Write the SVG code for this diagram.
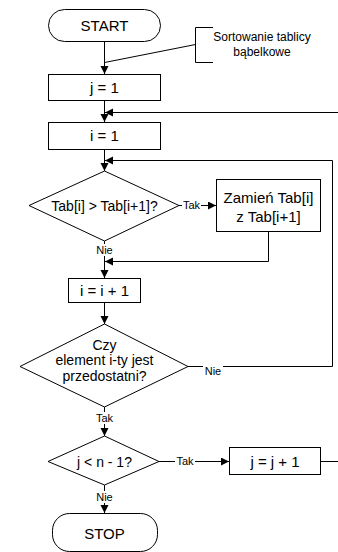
<svg xmlns="http://www.w3.org/2000/svg" width="338" height="552" viewBox="0 0 338 552">
  <defs>
    <marker id="arrow" markerUnits="userSpaceOnUse" markerWidth="10" markerHeight="10" refX="8" refY="4" orient="auto">
      <path d="M0,0 L8,4 L0,8 Z" fill="#000"/>
    </marker>
    <style>
      .shape { fill: #fff; stroke: #000; stroke-width: 1; }
      .edge { fill: none; stroke: #000; stroke-width: 1; }
      .t { font-family: "Liberation Sans", Arial, sans-serif; fill: #000; text-anchor: middle; }
      .box { font-size: 15px; }
      .dec { font-size: 14px; }
      .lbl { font-size: 11px; }
      .note { font-size: 12px; }
      .bg { fill: #fff; stroke: none; }
    </style>
  </defs>

  <rect width="338" height="552" fill="#fff"/>

  <!-- connectors -->
  <g id="connectors">
    <line class="edge" x1="104.5" y1="41" x2="104.5" y2="74" marker-end="url(#arrow)"/>
    <line class="edge" x1="104.5" y1="100" x2="104.5" y2="122" marker-end="url(#arrow)"/>
    <!-- outer loop return -->
    <polyline class="edge" points="338,112.5 105,112.5" marker-end="url(#arrow)"/>
    <line class="edge" x1="104.5" y1="149" x2="104.5" y2="171" marker-end="url(#arrow)"/>
    <!-- inner loop return -->
    <polyline class="edge" points="188,366.5 332.5,366.5 332.5,160.5 105,160.5" marker-end="url(#arrow)"/>
    <!-- Tak: swap -->
    <line class="edge" x1="179" y1="205.5" x2="216" y2="205.5" marker-end="url(#arrow)"/>
    <!-- swap back to flow -->
    <polyline class="edge" points="268.5,231 268.5,261.5 105,261.5" marker-end="url(#arrow)"/>
    <!-- Nie -->
    <line class="edge" x1="104.5" y1="241" x2="104.5" y2="278" marker-end="url(#arrow)"/>
    <line class="edge" x1="104.5" y1="302" x2="104.5" y2="324" marker-end="url(#arrow)"/>
    <line class="edge" x1="104.5" y1="407" x2="104.5" y2="436" marker-end="url(#arrow)"/>
    <line class="edge" x1="159" y1="461.5" x2="229" y2="461.5" marker-end="url(#arrow)"/>
    <line class="edge" x1="321" y1="461.5" x2="338" y2="461.5"/>
    <line class="edge" x1="104.5" y1="485" x2="104.5" y2="513" marker-end="url(#arrow)"/>

    <!-- edge labels -->
    <rect class="bg" x="182" y="199" width="19" height="12"/>
    <text class="t lbl" x="191.5" y="209">Tak</text>
    <rect class="bg" x="95" y="244" width="19" height="12"/>
    <text class="t lbl" x="104.5" y="254">Nie</text>
    <rect class="bg" x="203" y="364" width="20" height="12"/>
    <text class="t lbl" x="213" y="375">Nie</text>
    <rect class="bg" x="95" y="412" width="19" height="12"/>
    <text class="t lbl" x="104.5" y="422">Tak</text>
    <rect class="bg" x="175" y="455" width="20" height="12"/>
    <text class="t lbl" x="185" y="465">Tak</text>
    <rect class="bg" x="95" y="491" width="19" height="12"/>
    <text class="t lbl" x="104.5" y="501">Nie</text>
  </g>

  <!-- annotation -->
  <g id="note">
    <polyline class="edge" points="213,27.5 195.5,27.5 195.5,62.5 213,62.5"/>
    <line class="edge" x1="195.5" y1="44.5" x2="104.5" y2="62.5"/>
    <text class="t note" x="262" y="41">Sortowanie tablicy</text>
    <text class="t note" x="262" y="56">bąbelkowe</text>
  </g>

  <g id="start">
    <rect class="shape" x="48.5" y="9.5" width="112" height="32" rx="16" ry="16"/>
    <text class="t box" x="104.5" y="31">START</text>
  </g>

  <g id="j-init">
    <rect class="shape" x="48.5" y="74.5" width="112" height="26"/>
    <text class="t box" x="104.5" y="93">j = 1</text>
  </g>

  <g id="i-init">
    <rect class="shape" x="48.5" y="122.5" width="112" height="27"/>
    <text class="t box" x="104.5" y="141">i = 1</text>
  </g>

  <g id="compare">
    <polygon class="shape" points="104.5,171 179,205.5 104.5,241 29,205.5"/>
    <text class="t dec" x="104.5" y="211">Tab[i] &gt; Tab[i+1]?</text>
  </g>

  <g id="swap">
    <rect class="shape" x="216.5" y="179.5" width="104" height="52"/>
    <text class="t box" x="268.5" y="203">Zamień Tab[i]</text>
    <text class="t box" x="268.5" y="222">z Tab[i+1]</text>
  </g>

  <g id="i-inc">
    <rect class="shape" x="68.5" y="278.5" width="72" height="24"/>
    <text class="t box" x="104.5" y="296">i = i + 1</text>
  </g>

  <g id="last-check">
    <polygon class="shape" points="104.5,324 188,366.5 104.5,407 20,366.5"/>
    <text class="t dec" x="104.5" y="349.5">Czy</text>
    <text class="t dec" x="104.5" y="365">element i-ty jest</text>
    <text class="t dec" x="104.5" y="380.5">przedostatni?</text>
  </g>

  <g id="j-check">
    <polygon class="shape" points="104.5,436 159,461.5 104.5,485 48,461.5"/>
    <text class="t dec" x="104.5" y="466.5">j &lt; n - 1?</text>
  </g>

  <g id="j-inc">
    <rect class="shape" x="229.5" y="447.5" width="91" height="27"/>
    <text class="t box" x="275" y="466.5">j = j + 1</text>
  </g>

  <g id="stop">
    <rect class="shape" x="52.5" y="513.5" width="105" height="38" rx="17" ry="17"/>
    <text class="t box" x="104.5" y="539">STOP</text>
  </g>
</svg>
